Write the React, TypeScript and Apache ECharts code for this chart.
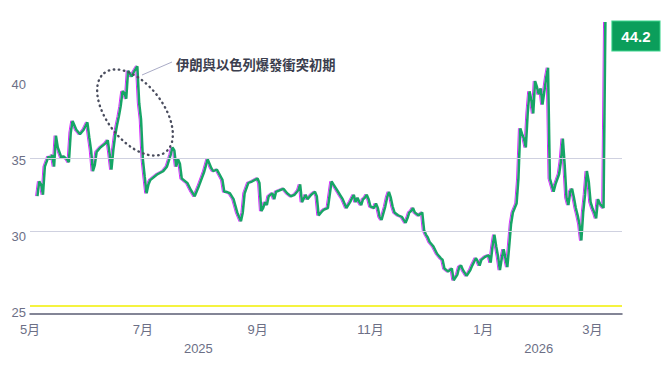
import React, { useEffect, useRef } from "react";
import * as echarts from "echarts";

// ---- data -------------------------------------------------------------
const dates: string[] = [
  "2025-05-05","2025-05-06","2025-05-07","2025-05-08","2025-05-09","2025-05-11","2025-05-12","2025-05-13","2025-05-14","2025-05-15",
  "2025-05-16","2025-05-18","2025-05-19","2025-05-21","2025-05-22","2025-05-23","2025-05-24","2025-05-26","2025-05-28","2025-05-30",
  "2025-06-01","2025-06-02","2025-06-03","2025-06-04","2025-06-05","2025-06-06","2025-06-08","2025-06-11","2025-06-12","2025-06-13",
  "2025-06-14","2025-06-15","2025-06-16","2025-06-17","2025-06-18","2025-06-19","2025-06-20","2025-06-21","2025-06-22","2025-06-23",
  "2025-06-25","2025-06-26","2025-06-28","2025-06-29","2025-06-30","2025-07-01","2025-07-02","2025-07-03","2025-07-04","2025-07-05",
  "2025-07-07","2025-07-09","2025-07-12","2025-07-14","2025-07-16","2025-07-17","2025-07-18","2025-07-19","2025-07-20","2025-07-21",
  "2025-07-22","2025-07-25","2025-07-27","2025-07-29","2025-07-31","2025-08-03","2025-08-05","2025-08-07","2025-08-08","2025-08-10",
  "2025-08-13","2025-08-14","2025-08-15","2025-08-17","2025-08-19","2025-08-21","2025-08-23","2025-08-24","2025-08-25","2025-08-27",
  "2025-08-29","2025-09-01","2025-09-02","2025-09-03","2025-09-04","2025-09-05","2025-09-06","2025-09-07","2025-09-09","2025-09-10",
  "2025-09-11","2025-09-13","2025-09-15","2025-09-17","2025-09-19","2025-09-21","2025-09-23","2025-09-24","2025-09-25","2025-09-27",
  "2025-09-28","2025-09-30","2025-10-02","2025-10-03","2025-10-04","2025-10-06","2025-10-07","2025-10-09","2025-10-11","2025-10-12",
  "2025-10-14","2025-10-16","2025-10-17","2025-10-19","2025-10-21","2025-10-23","2025-10-24","2025-10-25","2025-10-26","2025-10-27",
  "2025-10-28","2025-10-29","2025-10-30","2025-10-31","2025-11-01","2025-11-03","2025-11-04","2025-11-05","2025-11-06","2025-11-07",
  "2025-11-09","2025-11-10","2025-11-11","2025-11-12","2025-11-13","2025-11-14","2025-11-16","2025-11-18","2025-11-20","2025-11-21",
  "2025-11-22","2025-11-23","2025-11-24","2025-11-25","2025-11-27","2025-11-29","2025-11-30","2025-12-01","2025-12-02","2025-12-03",
  "2025-12-05","2025-12-07","2025-12-09","2025-12-10","2025-12-11","2025-12-13","2025-12-14","2025-12-15","2025-12-16","2025-12-18",
  "2025-12-19","2025-12-20","2025-12-21","2025-12-23","2025-12-25","2025-12-26","2025-12-28","2025-12-29","2025-12-30","2025-12-31",
  "2026-01-02","2026-01-04","2026-01-05","2026-01-06","2026-01-07","2026-01-08","2026-01-09","2026-01-10","2026-01-11","2026-01-12",
  "2026-01-13","2026-01-14","2026-01-15","2026-01-16","2026-01-17","2026-01-18","2026-01-19","2026-01-20","2026-01-21","2026-01-22",
  "2026-01-23","2026-01-24","2026-01-25","2026-01-26","2026-01-27","2026-01-28","2026-01-29","2026-01-30","2026-01-31","2026-02-01",
  "2026-02-02","2026-02-03","2026-02-04","2026-02-05","2026-02-06","2026-02-08","2026-02-09","2026-02-11","2026-02-12","2026-02-13",
  "2026-02-14","2026-02-15","2026-02-16","2026-02-17","2026-02-18","2026-02-19","2026-02-20","2026-02-21","2026-02-22","2026-02-23",
  "2026-02-24","2026-02-25","2026-02-26","2026-02-27","2026-02-28","2026-03-01","2026-03-02","2026-03-03","2026-03-04","2026-03-05",
  "2026-03-07","2026-03-08",
];

const values: number[] = [
  32.4, 33.4, 33.2, 32.5, 34.4, 35.1, 34.9, 35.2, 34.4, 36.5,
  35.7, 35.0, 35.1, 34.9, 34.7, 36.7, 37.5, 36.9, 36.6, 36.9,
  37.4, 36.4, 35.5, 34.1, 34.5, 35.4, 35.7, 36.0, 36.2, 35.3,
  34.2, 35.5, 36.5, 37.2, 37.8, 38.5, 39.5, 39.4, 39.0, 40.9,
  40.5, 40.8, 41.2, 38.7, 37.6, 34.9, 33.7, 32.6, 33.2, 33.5,
  33.7, 33.9, 34.1, 34.4, 35.2, 35.7, 35.5, 34.4, 34.9, 34.6,
  33.6, 33.3, 32.8, 32.4, 33.0, 34.0, 34.9, 34.3, 34.1, 34.2,
  33.5, 32.7, 32.7, 32.6, 32.2, 31.3, 30.7, 31.3, 32.6, 33.3,
  33.4, 33.6, 33.3, 31.4, 31.6, 32.0, 31.8, 32.4, 32.6, 32.2,
  32.7, 32.8, 32.9, 32.6, 32.4, 32.5, 32.8, 33.2, 32.0, 32.5,
  32.2, 32.5, 32.7, 32.4, 31.1, 31.4, 31.5, 31.6, 33.4, 33.2,
  32.8, 32.4, 32.2, 31.6, 32.0, 32.5, 32.0, 32.3, 32.0, 31.8,
  32.2, 32.3, 32.5, 32.2, 31.7, 31.6, 31.9, 31.6, 31.0, 30.8,
  31.7, 32.3, 32.7, 32.3, 31.7, 31.3, 31.1, 31.0, 30.6, 30.9,
  31.3, 31.4, 31.6, 31.3, 31.1, 31.3, 30.1, 29.8, 29.6, 29.3,
  29.0, 28.5, 28.2, 28.1, 27.5, 27.3, 27.4, 27.5, 26.7, 27.1,
  27.6, 27.7, 27.4, 27.0, 27.4, 27.7, 28.2, 28.0, 27.7, 28.1,
  28.3, 28.4, 27.9, 29.0, 29.8, 29.0, 28.3, 27.4, 28.2, 28.8,
  28.2, 27.6, 29.0, 30.5, 31.3, 31.6, 31.9, 33.6, 37.0, 36.6,
  36.3, 35.7, 38.0, 39.5, 38.9, 38.0, 40.2, 39.8, 39.3, 39.7,
  38.6, 39.5, 40.4, 41.1, 33.6, 32.7, 33.2, 33.9, 34.8, 36.3,
  34.5, 32.3, 31.8, 32.7, 32.9, 32.3, 31.6, 31.1, 30.5, 29.4,
  31.3, 32.5, 34.1, 33.4, 32.0, 31.6, 31.3, 30.9, 32.2, 31.9,
  31.6, 44.2,
];

const axisStart = "2025-05-01";
const axisEnd = "2026-03-17";
const monthTicks: string[] = ["2025-05-01", "2025-07-01", "2025-09-01", "2025-11-01", "2026-01-01", "2026-03-01"];
const yearTickDates: string[] = ["2025-07-31", "2026-01-31"];
const yTicks: number[] = [25, 30, 35, 40];
const gridValues: number[] = [30, 35];
const floorValue = 25;
const yMin = 24.42;
const yMax = 44.2;
// the tick labels of the reference sit on a slightly wider scale than the plot
const yLabelMin = 24.93;
const yLabelMax = 44.14;
const annotationText = "伊朗與以色列爆發衝突初期";

// ---- helpers ----------------------------------------------------------
const parse = (s: string): number => {
  const [y, m, d] = s.split("-").map(Number);
  return new Date(y, m - 1, d).getTime();
};

const LABEL_COLOR = "#6c6f86";
const FONT = "'Liberation Sans', Arial, 'Noto Sans CJK TC', sans-serif";

export default function App() {
  const ref = useRef<HTMLDivElement>(null);

  useEffect(() => {
    if (!ref.current) return;
    const chart = echarts.init(ref.current, undefined, { renderer: "svg" });
    const seriesData = dates.map((d, i) => [parse(d), values[i]]);

    const baseX = {
      type: "value",
      position: "bottom",
      min: parse(axisStart),
      max: parse(axisEnd),
      axisTick: { show: false },
      splitLine: { show: false },
    };

    const option: any = {
      animation: false,
      backgroundColor: "#ffffff",
      grid: { left: 30, right: 42, top: 22, bottom: 51, containLabel: false },
      xAxis: [
        {
          ...baseX,
          axisLine: { show: true, onZero: false, lineStyle: { color: "#5b5e74", width: 1.5 } },
          axisLabel: {
            customValues: monthTicks.map(parse),
            formatter: (v: number) => `${new Date(v).getMonth() + 1}月`,
            color: LABEL_COLOR,
            fontSize: 13,
            fontFamily: FONT,
            margin: 9,
            showMinLabel: true,
            showMaxLabel: true,
          },
        },
        {
          ...baseX,
          axisLine: { show: false },
          axisLabel: {
            customValues: yearTickDates.map(parse),
            formatter: (v: number) => String(new Date(v).getFullYear()),
            color: LABEL_COLOR,
            fontSize: 13,
            fontFamily: FONT,
            margin: 28,
          },
        },
      ],
      yAxis: [
        {
          type: "value",
          position: "left",
          min: yMin,
          max: yMax,
          axisLine: { show: false },
          axisTick: { show: false },
          splitLine: { show: false },
          axisLabel: { show: false },
        },
        {
          type: "value",
          position: "left",
          min: yLabelMin,
          max: yLabelMax,
          axisLine: { show: false },
          axisTick: { show: false },
          splitLine: { show: false },
          axisLabel: {
            customValues: yTicks,
            color: LABEL_COLOR,
            fontSize: 13,
            fontFamily: FONT,
            margin: 4,
          },
        },
      ],
      series: [
        {
          type: "line",
          xAxisIndex: 0,
          yAxisIndex: 0,
          data: seriesData,
          symbol: "none",
          lineStyle: { opacity: 0 },
          silent: true,
          z: 1,
          markLine: {
            silent: true,
            symbol: ["none", "none"],
            label: { show: false },
            data: [
              ...gridValues.map((v) => ({ yAxis: v, lineStyle: { color: "#cfd1e0", width: 1, type: "solid" } })),
              { yAxis: floorValue, lineStyle: { color: "#f2ef00", width: 1.6, type: "solid" } },
            ],
          },
        },
        {
          type: "line",
          xAxisIndex: 0,
          yAxisIndex: 0,
          data: seriesData,
          symbol: "none",
          showSymbol: false,
          clip: false,
          z: 3,
          lineStyle: {
            color: "#17a566",
            width: 2.6,
            shadowColor: "rgba(205,0,255,0.85)",
            shadowOffsetX: -1,
            shadowOffsetY: 0,
            shadowBlur: 0,
          },
          endLabel: {
            show: true,
            formatter: (p: any) => Number(p.value[1]).toFixed(1),
            color: "#ffffff",
            fontSize: 15,
            fontWeight: "bold",
            fontFamily: FONT,
            backgroundColor: "#0b9e5b",
            borderColor: "#3fd68f",
            borderWidth: 1,
            padding: [7, 9, 7, 9],
            lineHeight: 15,
            distance: 7,
            offset: [0, 14],
          },
        },
      ],
      graphic: [
        {
          type: "ellipse",
          x: 135,
          y: 112.5,
          rotation: -0.91,
          shape: { cx: 0, cy: 0, rx: 50, ry: 28 },
          style: {
            fill: "none",
            stroke: "#4a4d5e",
            lineWidth: 2.4,
            lineDash: [0.5, 4.6],
            lineCap: "round",
          },
          z: 10,
        },
        {
          type: "line",
          shape: { x1: 142, y1: 75, x2: 172, y2: 62 },
          style: { stroke: "#a9abc6", lineWidth: 1 },
          z: 10,
        },
        {
          type: "text",
          x: 176,
          y: 64,
          style: {
            text: annotationText,
            fill: "#3b3e4e",
            fontSize: 13.3,
            fontWeight: "bold",
            fontFamily: "'Noto Sans CJK TC', sans-serif",
            verticalAlign: "middle",
            align: "left",
          },
          z: 10,
        },
      ],
    };

    chart.setOption(option);
    return () => chart.dispose();
  }, []);

  return (
    <div
      ref={ref}
      style={{ position: "fixed", left: 0, top: 0, width: 664, height: 365, background: "#fff" }}
    />
  );
}
